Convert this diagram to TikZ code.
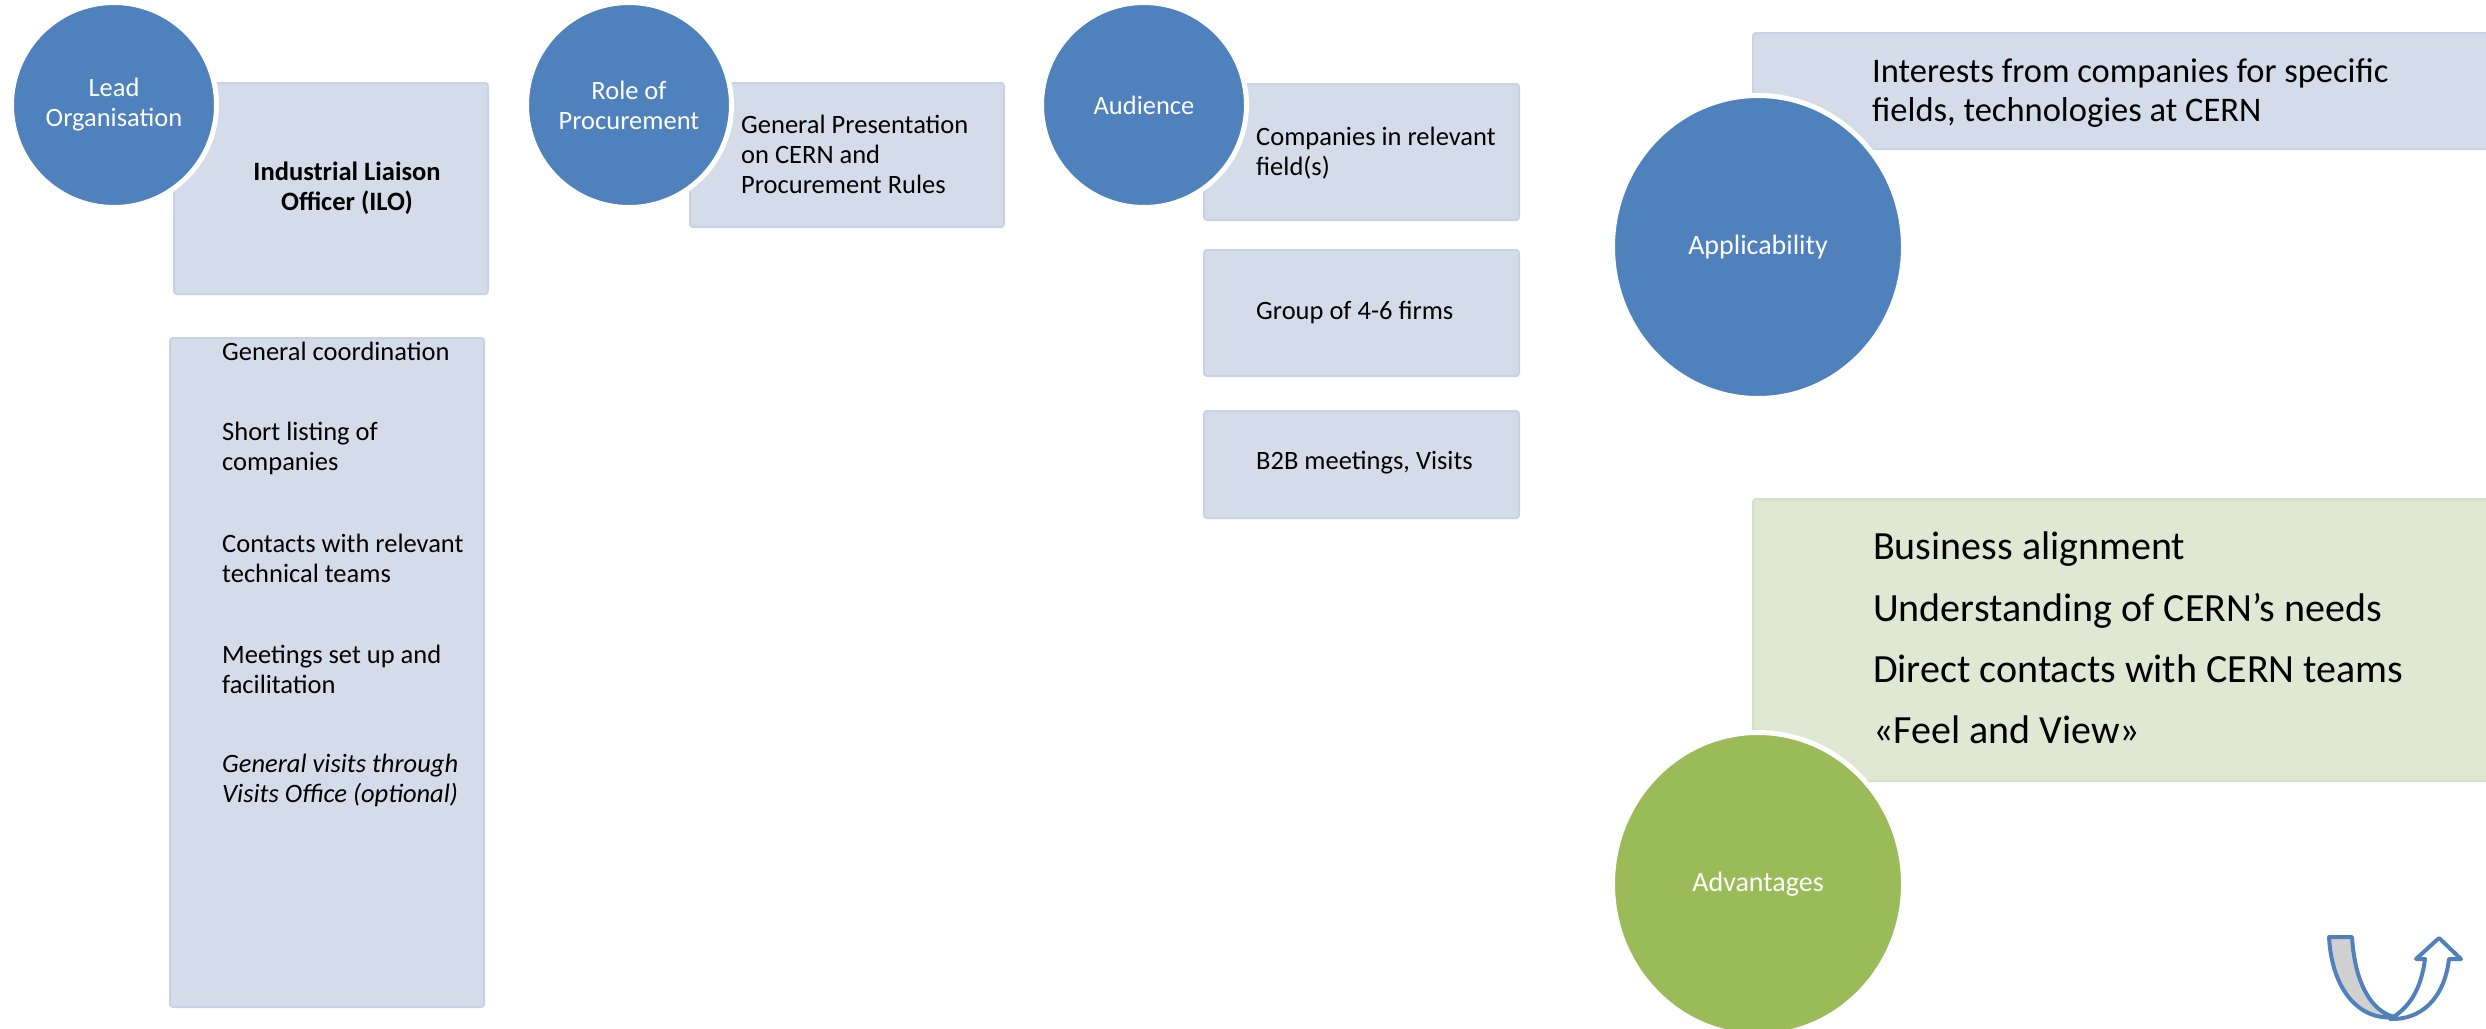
\documentclass[tikz,border=0pt]{standalone}
\usepackage{fontspec}
\usetikzlibrary{shapes.geometric}
\setmainfont{Carlito}
\definecolor{accent}{HTML}{4F81BD}
\definecolor{boxfill}{HTML}{D4DCEA}
\definecolor{boxedge}{HTML}{C9D2E3}
\definecolor{leaf}{HTML}{9BBB59}
\definecolor{leaffill}{HTML}{E0E8D4}
\definecolor{leafedge}{HTML}{D6DFC9}
\definecolor{ribbon}{HTML}{D0D0D0}

\begin{document}
\begin{tikzpicture}[x=1pt,y=-1pt,
  panel/.style={fill=boxfill, draw=boxedge, line width=2pt, rounded corners=3pt,
    inner sep=0pt, anchor=north west},
  greenpanel/.style={panel, fill=leaffill, draw=leafedge},
  disc/.style={circle, fill=accent, draw=white, line width=5pt, inner sep=0pt,
    text=white, align=center, font=\fontsize{26.5}{30}\selectfont},
  bigdisc/.style={disc, ellipse, minimum width=291pt, minimum height=303pt,
    font=\fontsize{28}{32}\selectfont},
  item/.style={anchor=west, inner sep=0pt, align=left, font=\fontsize{26.5}{30}\selectfont},
  bigitem/.style={item, font=\fontsize{34.5}{39}\selectfont},
  hugeitem/.style={item, font=\fontsize{40}{61.3}\selectfont},
  uturn/.style={draw=accent, line width=4pt, line join=round}
]
\useasboundingbox (0,0) rectangle (2486,1028);
\clip (0,0) rectangle (2486,1028);

% ---- boxes ----
\node[panel, minimum width=314pt, minimum height=211pt] (lead box) at (173,82) {};
\node[panel, minimum width=314pt, minimum height=669pt] (tasks box) at (169,337) {};
\node[panel, minimum width=314pt, minimum height=144pt] (proc box) at (689,82) {};
\node[panel, minimum width=315pt, minimum height=136pt] (aud1 box) at (1203,83) {};
\node[panel, minimum width=315pt, minimum height=126pt] (aud2 box) at (1203,249) {};
\node[panel, minimum width=315pt, minimum height=107pt] (aud3 box) at (1203,410) {};
\node[panel, minimum width=745pt, minimum height=116pt] (appl box) at (1752,32) {};
\node[greenpanel, minimum width=745pt, minimum height=282pt] (adv box) at (1752,498) {};

% ---- box texts ----
\node[inner sep=0pt, align=center, font=\fontsize{26.5}{30}\selectfont\bfseries]
  (ilo) at (347,188) {Industrial Liaison\\Officer (ILO)};
\node[item] (t1) at (222,351) {General coordination};
\node[item] (t2) at (222,448.5) {Short listing of\\companies};
\node[item] (t3) at (222,558) {Contacts with relevant\\technical teams};
\node[item] (t4) at (222,669) {Meetings set up and\\facilitation};
\node[item, font=\fontsize{26.5}{30}\selectfont\itshape] (t5) at (222,780)
  {General visits through\\Visits Office (optional)};
\node[item] (proc) at (741,154) {General Presentation\\on CERN and\\Procurement Rules};
\node[item] (aud1) at (1256,153) {Companies in relevant\\field(s)};
\node[item] (aud2) at (1256,312) {Group of 4-6 firms};
\node[item] (aud3) at (1256,463) {B2B meetings, Visits};
\node[bigitem] (appl) at (1872,93) {Interests from companies for specific\\fields, technologies at CERN};
\node[hugeitem] (adv) at (1873,638) {Business alignment\\Understanding of CERN’s needs\\Direct contacts with CERN teams\\«Feel and View»};

% ---- circles ----
\node[disc, minimum size=205pt] (lead) at (114,105) {Lead\\Organisation};
\node[disc, minimum size=205pt] (role) at (629,105) {Role of\\Procurement};
\node[disc, minimum size=205pt] (audience) at (1144,105) {Audience};
\node[bigdisc] (applicability) at (1758,247) {Applicability};
\node[bigdisc, fill=leaf] (advantages) at (1758,884) {Advantages};

% ---- U-turn arrow ----
\path[uturn, fill=ribbon] (2329,937) -- (2352,937)
  .. controls (2355,985) and (2372,1011) .. (2394,1017)
  .. controls (2362,1021) and (2332,993) .. (2329,937) -- cycle;
\path[uturn, fill=white] (2425,959) -- (2416,959) -- (2439,938) -- (2461,959) -- (2449,959)
  .. controls (2444,1000) and (2420,1020) .. (2390,1019)
  .. controls (2409,1008) and (2421,990) .. (2425,959) -- cycle;
\end{tikzpicture}
\end{document}
